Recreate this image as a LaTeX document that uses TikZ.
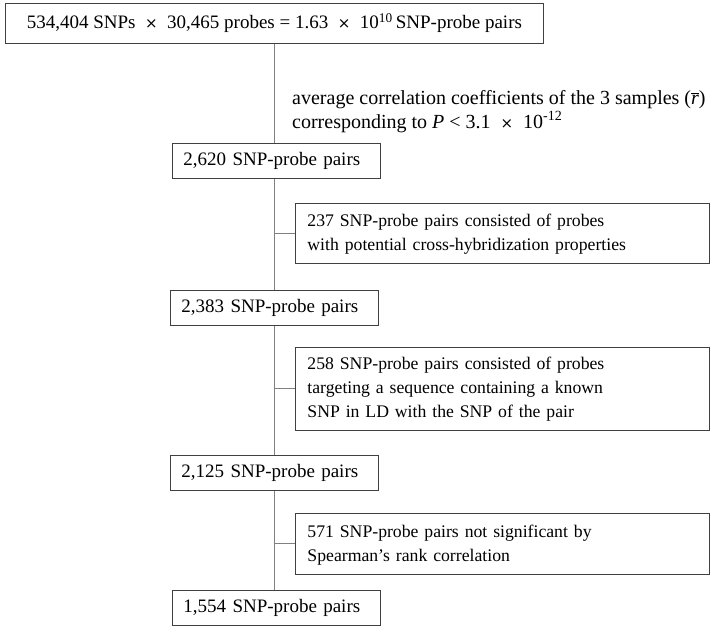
\documentclass[tikz,border=0pt]{standalone}
\usepackage{fontspec}
\setmainfont{Liberation Serif}
\newfontfamily\xsym{DejaVu Sans}
\newcommand{\tms}{\ \ {\xsym\fontsize{15}{24}\selectfont ×}\ \ }
\usetikzlibrary{positioning}
\begin{document}
\begin{tikzpicture}[x=1pt,y=-1pt,
    every node/.style={font=\fontsize{19}{24}\selectfont},
    stage/.style={draw=black!75, line width=0.9pt, anchor=north west, align=left,
        inner xsep=11pt, inner ysep=8.5pt, minimum height=35pt, text width=186pt},
    filter/.style={draw=black!75, line width=0.9pt, anchor=north west, align=left,
        inner xsep=12pt, inner ysep=8.5pt, text width=390pt, text height=14pt,
        font=\fontsize{17.7}{24}\selectfont},
    link/.style={draw=black!50, line width=1pt}]
    \useasboundingbox (0,0) rectangle (714,638);
    % main flow
    \node[name=top, draw=black!75, line width=0.9pt, anchor=north west, minimum width=538pt, minimum height=40pt] at (5,3)
        {534,404 SNPs\tms30,465 probes = 1.63\tms10\textsuperscript{10}\,SNP-probe pairs};
    \node[name=s1, stage] at (172,143) {2,620 SNP-probe pairs};
    \node[name=s2, stage] at (170,290) {2,383 SNP-probe pairs};
    \node[name=s3, stage] at (170,455) {2,125 SNP-probe pairs};
    \node[name=s4, stage] at (172,590) {1,554 SNP-probe pairs};
    % filtering steps
    \node[name=note, anchor=north west, align=left, inner sep=0pt, font=\fontsize{20}{24}\selectfont] at (292,90)
        {average correlation coefficients of the 3 samples ($\overline{\mbox{\textit{r}}}$)\\
         corresponding to \textit{P} < 3.1\tms10\textsuperscript{-12}};
    \node[name=f1, filter, minimum height=60pt] at (295,203) {237 SNP-probe pairs consisted of probes\\
        with potential cross-hybridization properties};
    \node[name=f2, filter, minimum height=82pt] at (295,347) {258 SNP-probe pairs consisted of probes\\
        targeting a sequence containing a known\\SNP in LD with the SNP of the pair};
    \node[name=f3, filter, minimum height=61pt] at (295,513) {571 SNP-probe pairs not significant by\\
        Spearman’s rank correlation};
    % spine
    \draw[link] (top.south) -- (top.south |- s1.north);
    \draw[link] (top.south |- s1.south) -- (top.south |- s2.north);
    \draw[link] (top.south |- s2.south) -- (top.south |- s3.north);
    \draw[link] (top.south |- s3.south) -- (top.south |- s4.north);
    % branches
    \draw[link] (f1.west) -- (f1.west -| top.south);
    \draw[link] (f2.west) -- (f2.west -| top.south);
    \draw[link] (f3.west) -- (f3.west -| top.south);
\end{tikzpicture}
\end{document}
